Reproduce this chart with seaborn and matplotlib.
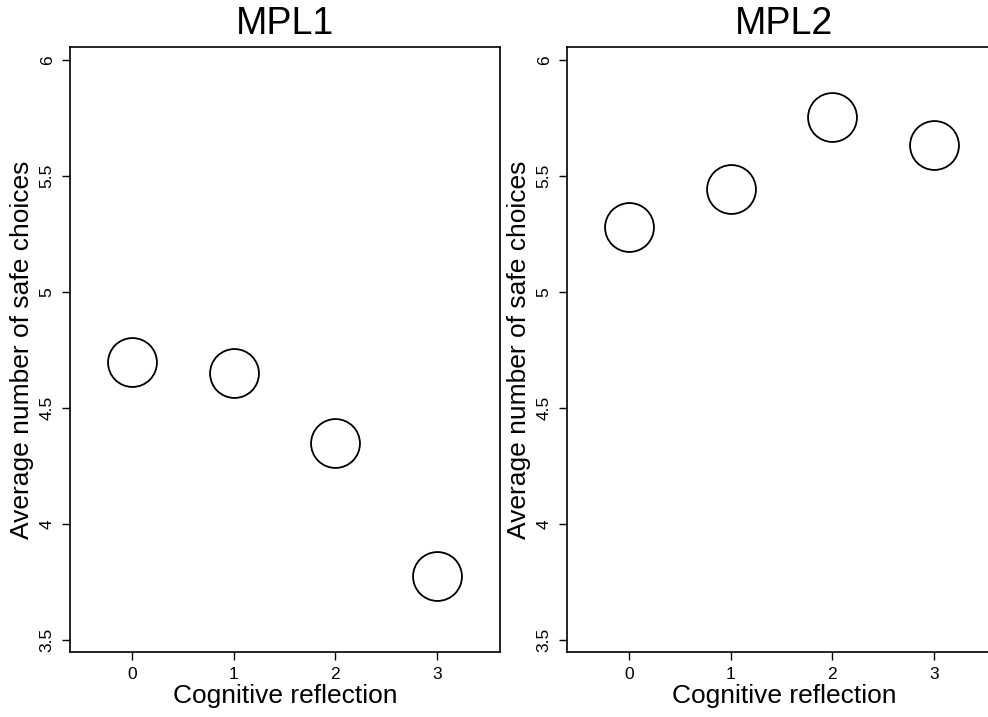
import matplotlib
matplotlib.use("Agg")
import matplotlib.pyplot as plt
import seaborn as sns
import pandas as pd

sns.set_style("ticks")
plt.rcParams['font.family'] = ['Liberation Sans', 'DejaVu Sans']
plt.rcParams['text.color'] = 'black'
plt.rcParams['axes.labelcolor'] = 'black'
plt.rcParams['xtick.color'] = 'black'
plt.rcParams['ytick.color'] = 'black'

cognitive = [0, 1, 2, 3]
mpl1_safe = [4.70, 4.65, 4.35, 3.775]
mpl2_safe = [5.28, 5.445, 5.755, 5.635]
titles = ["MPL1", "MPL2"]
yticks = [3.5, 4, 4.5, 5, 5.5, 6]
ytick_labels = ["3.5", "4", "4.5", "5", "5.5", "6"]

fig = plt.figure(figsize=(9.88, 7.17), dpi=100)
W, H = 988, 717
positions = [(70, 47, 430, 605), (567, 47, 434, 605)]

for (x0, ytop, w, h), title, vals in zip(positions, titles, [mpl1_safe, mpl2_safe]):
    ax = fig.add_axes([x0 / W, 1 - (ytop + h) / H, w / W, h / H])
    df = pd.DataFrame({"cr": cognitive, "safe": vals})
    sns.scatterplot(data=df, x="cr", y="safe", ax=ax, s=1240, marker="o",
                    facecolor="white", edgecolor="black", linewidth=1.3, zorder=3)
    ax.set_xlim(-0.61, 3.62 + (w - 430) / 101)
    ax.set_ylim(3.448, 6.056)
    ax.set_xticks(cognitive)
    ax.set_xticklabels([str(c) for c in cognitive], fontsize=12.5)
    ax.set_yticks(yticks)
    ax.set_yticklabels(ytick_labels, fontsize=12.5, rotation=90, va="center")
    ax.tick_params(axis="both", direction="out", length=6, width=1, color="black", pad=5)
    for sp in ax.spines.values():
        sp.set_visible(True)
        sp.set_color("black")
        sp.set_linewidth(1.2)
    ax.set_xlabel("Cognitive reflection", fontsize=19, labelpad=1, color="black")
    ax.set_ylabel("Average number of safe choices", fontsize=19, labelpad=4, color="black")
    ax.set_title(title, fontsize=27, pad=9, color="black")
    ax.set_facecolor("white")

fig.savefig("out.png", dpi=100, facecolor="white")
